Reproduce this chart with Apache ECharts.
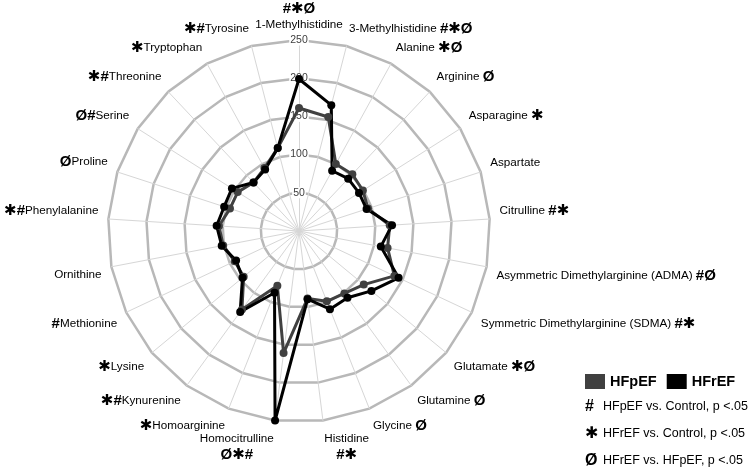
<!DOCTYPE html>
<html><head><meta charset="utf-8">
<script src="https://cdn.jsdelivr.net/npm/echarts@6/dist/echarts.min.js"></script>
<style>html,body{margin:0;padding:0;background:#fff}#chart{width:750px;height:471px}</style>
</head><body><div id="chart"></div>
<script>
// Clockwise from the top
const metabolites = ["1-Methylhistidine","3-Methylhistidine","Alanine","Arginine","Asparagine","Aspartate","Citrulline","Asymmetric Dimethylarginine (ADMA)","Symmetric Dimethylarginine (SDMA)","Glutamate","Glutamine","Glycine","Histidine","Homocitrulline","Homoarginine","Kynurenine","Lysine","Methionine","Ornithine","Phenylalanine","Proline","Serine","Threonine","Tryptophan","Tyrosine"];
const significance = ["#✱Ø","#✱Ø","✱Ø","Ø","✱","","#✱","#Ø","#✱","✱Ø","Ø","Ø","#✱","Ø✱#","✱","✱#","✱","#","","✱#","Ø","Ø#","✱#","✱","✱#"];
const hfpef = [161,154,100,102,99,95,119,118,138,110,101,99,89,161,77,127,94,93,101,105,95,95,87,94,112];
const hfref = [199,170,90,94,93,93,122,109,144,123,108,110,90,250,87,131,96,91,103,108,103,104,87,92,112];
const seriesNames = ["HFpEF","HFrEF"];
const axisMax = 250;
const axisSplits = 5;
const footnoteMarks = ["#","✱","Ø"];
const footnoteTexts = ["HFpEF vs. Control, p <.05","HFrEF vs. Control, p <.05","HFrEF vs. HFpEF, p <.05"];

const FONT = "'Liberation Sans', Arial, 'DejaVu Sans', sans-serif";
const n = metabolites.length;
// ECharts radar runs counter-clockwise: reorder
const order = [0];
for (let k = n - 1; k >= 1; k--) order.push(k);

const indicators = order.map(i => {
  const deg = i * 360 / n;
  let align, va;
  if (i === 0) { align = 'center'; va = 'bottom'; }
  else if (deg < 180) { align = 'left'; va = deg < 90 ? 'bottom' : 'top'; }
  else { align = 'right'; va = deg > 270 ? 'bottom' : 'top'; }
  const ind = { name: metabolites[i], min: 0, max: axisMax,
           nameTextStyle: { align: align, verticalAlign: va },
           axisLabel: { show: i === 0 } };
  if (i === 0) ind.nameGap = 7;
  return ind;
});

function fmtName(name) {
  const i = metabolites.indexOf(name);
  const s = significance[i];
  if (!s) return '{n|' + name + '}';
  if (i === 0) return '{mc|' + s + '}\n{nc|' + name + '}';
  if (i === 12 || i === 13) return '{nc|' + name + '}\n{mc|' + s + '}';
  if (i < 12) return '{n|' + name + ' }{m|' + s + '}';
  return '{m|' + s + '}{n|' + name + '}';
}

const chart = echarts.init(document.getElementById('chart'), null, { renderer: 'canvas' });
chart.setOption({
  backgroundColor: '#fff',
  animation: false,
  legend: {
    data: seriesNames, left: 585, top: 374, itemWidth: 20, itemHeight: 15, itemGap: 10,
    icon: 'rect', padding: 0, selectedMode: false,
    textStyle: { fontSize: 14.5, fontWeight: 'bold', color: '#000', fontFamily: FONT }
  },
  radar: {
    center: [299, 231], radius: 191, startAngle: 90, shape: 'polygon',
    splitNumber: axisSplits, axisNameGap: 10,
    axisName: {
      color: '#000', fontFamily: FONT, fontSize: 11.7,
      formatter: fmtName,
      rich: {
        n: { fontSize: 11.7, color: '#000', fontFamily: FONT },
        nc: { fontSize: 11.7, color: '#000', fontFamily: FONT, align: 'center', lineHeight: 16 },
        m: { fontSize: 15, fontWeight: 'bold', color: '#000', fontFamily: FONT },
        mc: { fontSize: 15, fontWeight: 'bold', color: '#000', fontFamily: FONT, align: 'center', lineHeight: 17 }
      }
    },
    splitLine: { lineStyle: { color: '#b8b8b8', width: 2.5 } },
    splitArea: { show: false },
    axisLine: { lineStyle: { color: '#d6d6d6', width: 1 } },
    axisTick: { show: false },
    axisLabel: { show: false, showMinLabel: false, fontSize: 10.5, color: '#404040', fontFamily: FONT,
                 margin: 0, align: 'center', backgroundColor: '#fff', padding: [0, 1] },
    indicator: indicators
  },
  series: [{
    type: 'radar', symbol: 'circle', symbolSize: 8,
    data: [
      { name: seriesNames[0], value: order.map(i => hfpef[i]),
        itemStyle: { color: '#404040' }, lineStyle: { color: '#404040', width: 3 } },
      { name: seriesNames[1], value: order.map(i => hfref[i]),
        itemStyle: { color: '#000' }, lineStyle: { color: '#000', width: 3 } }
    ]
  }],
  graphic: footnoteMarks.map((m, k) => ({
    type: 'text', x: 585, y: [407, 434, 461][k],
    style: {
      text: '{s|' + m + '}{t|' + footnoteTexts[k] + '}',
      verticalAlign: 'middle',
      rich: {
        s: { width: 18, fontSize: 16, fontWeight: 'bold', fill: '#000', fontFamily: FONT },
        t: { fontSize: 12.5, fill: '#000', fontFamily: FONT }
      }
    }
  }))
});
</script></body></html>
